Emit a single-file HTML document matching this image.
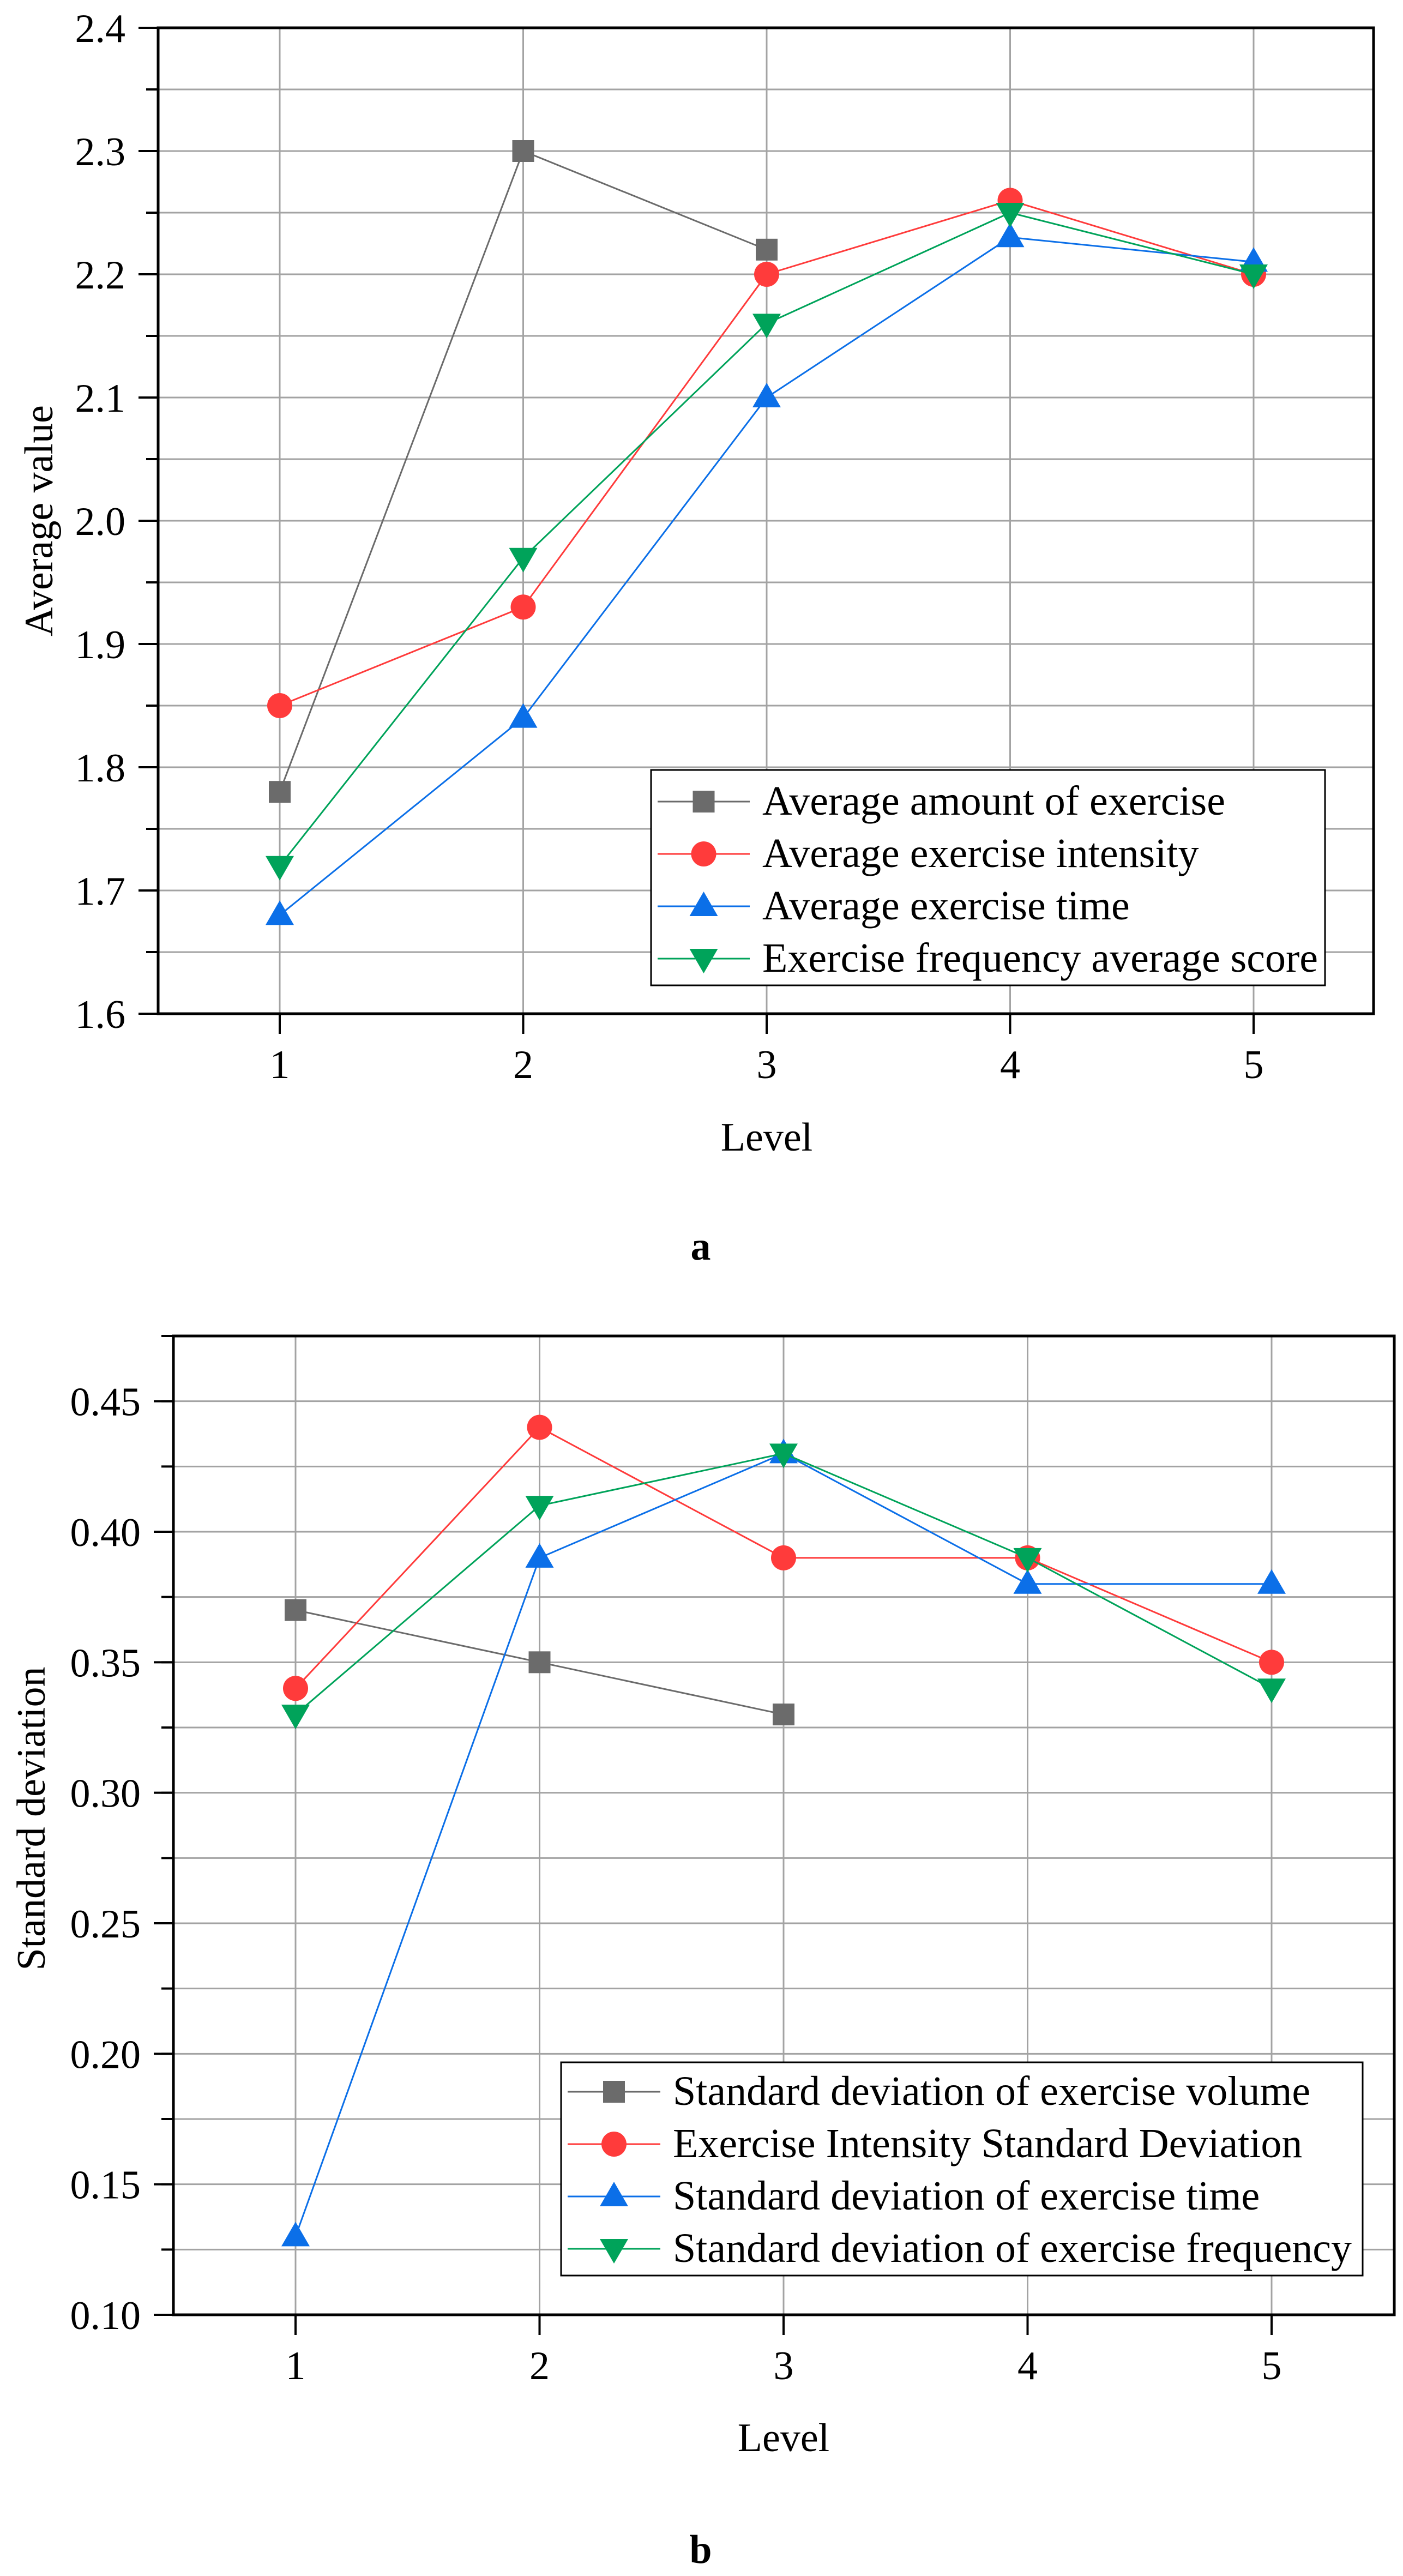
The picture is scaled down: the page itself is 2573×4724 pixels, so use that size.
<!DOCTYPE html>
<html><head><meta charset="utf-8">
<style>
html,body{margin:0;padding:0;background:#fff;}
svg{display:block;}
text{font-family:"Liberation Serif","Times New Roman",serif;}
</style></head>
<body>
<svg id="root" width="2573" height="4724" viewBox="0 0 2573 4724" xmlns="http://www.w3.org/2000/svg" font-family="Liberation Serif, serif"></svg>
<script>
const levels = [1,2,3,4,5];
// Chart a
const aAmount = [1.78, 2.30, 2.22, null, null];
const aIntensity = [1.85, 1.93, 2.20, 2.26, 2.20];
const aTime = [1.68, 1.84, 2.10, 2.23, 2.21];
const aFreq = [1.72, 1.97, 2.16, 2.25, 2.20];
const aTicks = ["1.6","1.7","1.8","1.9","2.0","2.1","2.2","2.3","2.4"];
const aLegend = ["Average amount of exercise","Average exercise intensity","Average exercise time","Exercise frequency average score"];
// Chart b
const bVolume = [0.37, 0.35, 0.33, null, null];
const bIntensity = [0.34, 0.44, 0.39, 0.39, 0.35];
const bTime = [0.13, 0.39, 0.43, 0.38, 0.38];
const bFreq = [0.33, 0.41, 0.43, 0.39, 0.34];
const bTicks = ["0.10","0.15","0.20","0.25","0.30","0.35","0.40","0.45"];
const bLegend = ["Standard deviation of exercise volume","Exercise Intensity Standard Deviation","Standard deviation of exercise time","Standard deviation of exercise frequency"];

const NS="http://www.w3.org/2000/svg";
const root=document.getElementById('root');
function mk(tag,attrs,parent){const e=document.createElementNS(NS,tag);for(const k in attrs)e.setAttribute(k,attrs[k]);if(tag==='text')e.setAttribute('font-family','Liberation Serif, serif');(parent||root).appendChild(e);return e;}
const colors=["#6b6b6b","#ff3b3b","#0b6fe8","#00a35a"];
const shapes=["square","circle","up","down"];

function marker(g,shape,x,y,c){
  let e;
  if(shape==="square") e=mk('rect',{x:x-20,y:y-20,width:40,height:40,fill:c},g);
  else if(shape==="circle") e=mk('circle',{cx:x,cy:y,r:23,fill:c},g);
  else if(shape==="up") e=mk('polygon',{points:`${x},${y-27} ${x+26},${y+18} ${x-26},${y+18}`,fill:c},g);
  else e=mk('polygon',{points:`${x},${y+27} ${x+26},${y-18} ${x-26},${y-18}`,fill:c},g);
  return e;
}

function chart(cfg){
  const {L,R,T,B,x1,x5,ymin,ymax,gridStep,ticks,series,legend,leg,titleY,yTitle,yTitleX,xTitleY,letter,letterY,name}=cfg;
  const g=mk('g',{});
  
  
  const xs=v=>x1+(v-1)*(x5-x1)/4;
  const ys=v=>B-(v-ymin)*(B-T)/(ymax-ymin);
  const n=Math.round((ymax-ymin)/gridStep);
  for(let i=1;i<=n;i++){const y=ys(ymin+i*gridStep);
    const l=mk('line',{x1:L,x2:R,y1:y,y2:y,stroke:"#a3a3a3","stroke-width":3},g);
    
    
    mk('line',{x1:L-22,x2:L,y1:y,y2:y,stroke:"#000","stroke-width":4},g);
  }
  levels.forEach(v=>{const x=xs(v);
    const l=mk('line',{x1:x,x2:x,y1:T,y2:B,stroke:"#a3a3a3","stroke-width":3},g);
    
    
    mk('line',{x1:x,x2:x,y1:B,y2:B+37,stroke:"#000","stroke-width":4},g);
    const t=mk('text',{x:x,y:B+118,"font-size":74,"text-anchor":"middle"},g);t.textContent=v;
    
    
  });
  const tstep=parseFloat(ticks[1])-parseFloat(ticks[0]);
  ticks.forEach((s,i)=>{const y=ys(parseFloat(ticks[0])+i*tstep);
    mk('line',{x1:L-36,x2:L,y1:y,y2:y,stroke:"#000","stroke-width":4},g);
    const t=mk('text',{x:L-60,y:y+26,"font-size":74,"text-anchor":"end"},g);t.textContent=s;
    
    
  });
  series.forEach((d,si)=>{
    const sg=mk('g',{},g);
    
    
    const pts=[];d.forEach((v,i)=>{if(v!==null)pts.push([xs(levels[i]),ys(v)]);});
    mk('polyline',{points:pts.map(p=>p.join(',')).join(' '),fill:"none",stroke:colors[si],"stroke-width":3},sg);
    pts.forEach(p=>{const m=marker(sg,shapes[si],p[0],p[1],colors[si]);
      
      });
  });
  const f=mk('rect',{x:L,y:T,width:R-L,height:B-T,fill:"none",stroke:"#000","stroke-width":5},g);
  
  
  const lg=mk('g',{},g);
  
  
  mk('rect',{x:leg.x,y:leg.y,width:leg.w,height:leg.h,fill:"#fff",stroke:"#000","stroke-width":3},lg);
  legend.forEach((s,i)=>{const y=leg.y0+i*leg.dy;
    const e=mk('g',{},lg);
    
    
    mk('line',{x1:leg.lx1,x2:leg.lx2,y1:y,y2:y,stroke:colors[i],"stroke-width":3},e);
    marker(e,shapes[i],(leg.lx1+leg.lx2)/2,y,colors[i]);
    const t=mk('text',{x:leg.tx,y:y+24,"font-size":76},e);t.textContent=s;
  });
  const xt=mk('text',{x:(x1+x5)/2,y:xTitleY,"font-size":74,"text-anchor":"middle"},g);xt.textContent="Level";
  
  
  const yt=mk('text',{x:0,y:0,"font-size":74,"text-anchor":"middle",transform:`translate(${yTitleX},${titleY}) rotate(-90)`},g);yt.textContent=yTitle;
  
  
  const lt=mk('text',{x:1285,y:letterY,"font-size":74,"font-weight":"bold","text-anchor":"middle"},g);lt.textContent=letter;
  
  
}

chart({name:'chart-a',L:290,R:2519,T:51,B:1859,x1:513,x5:2299,ymin:1.6,ymax:2.4,gridStep:0.05,ticks:aTicks,
  series:[aAmount,aIntensity,aTime,aFreq],legend:aLegend,
  leg:{x:1194,y:1412,w:1236,h:395,y0:1470,dy:96,lx1:1206,lx2:1375,tx:1398},
  yTitle:"Average value",yTitleX:96,titleY:955,xTitleY:2110,letter:"a",letterY:2310});
chart({name:'chart-b',L:318,R:2557,T:2450,B:4245,x1:542,x5:2332,ymin:0.1,ymax:0.475,gridStep:0.025,ticks:bTicks,
  series:[bVolume,bIntensity,bTime,bFreq],legend:bLegend,
  leg:{x:1029,y:3782,w:1470,h:391,y0:3836,dy:96,lx1:1041,lx2:1211,tx:1234},
  yTitle:"Standard deviation",yTitleX:82,titleY:3335,xTitleY:4495,letter:"b",letterY:4700});
</script>
</body></html>
